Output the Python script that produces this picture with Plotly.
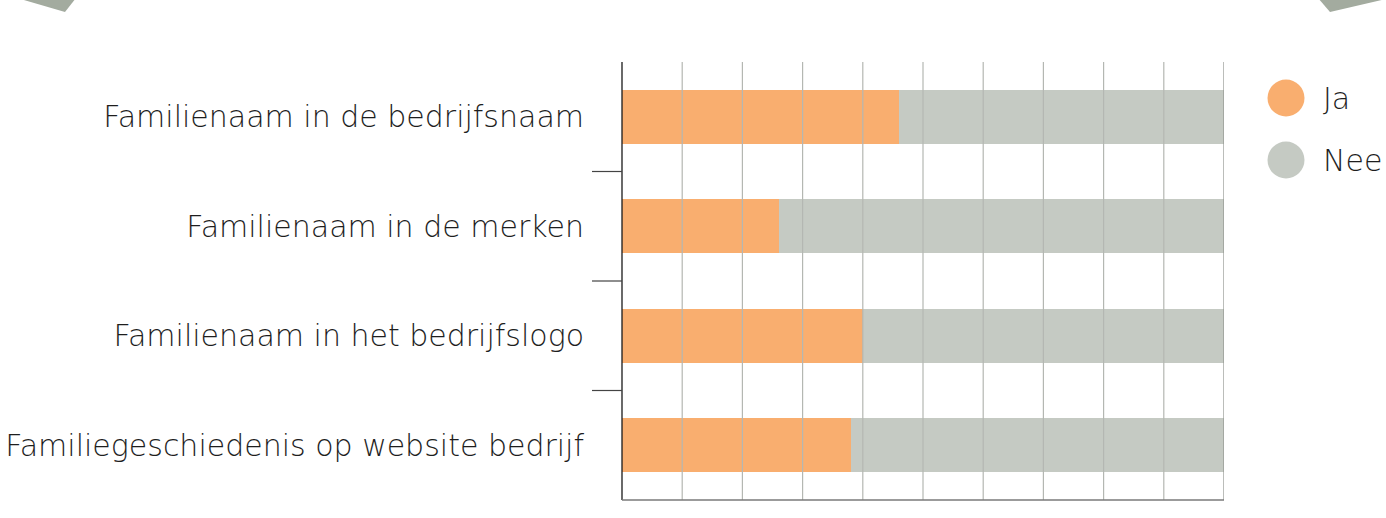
import plotly.graph_objects as go

categories = [
    "Familienaam in de bedrijfsnaam",
    "Familienaam in de merken",
    "Familienaam in het bedrijfslogo",
    "Familiegeschiedenis op website bedrijf",
]
ja_values = [46, 26, 40, 38]
nee_values = [54, 74, 60, 62]
series_names = ["Ja", "Nee"]
series_colors = ["#F9AE6F", "#C5CAC3"]

W, H = 1386, 518
L, R, T, B = 622, 162, 62, 18
PW, PH = W - L - R, H - T - B
FONT = "DejaVu Sans"
FSIZE = 30


def px(x):
    return (x - L) / PW


def py(y):
    return (H - B - y) / PH


fig = go.Figure()
for name, vals, col in zip(series_names, [ja_values, nee_values], series_colors):
    fig.add_trace(go.Bar(
        y=categories, x=vals, name=name, orientation="h",
        marker=dict(color=col, line=dict(width=0)),
        width=0.49, showlegend=False, hoverinfo="x+y+name",
    ))

shapes = []
for g in range(10, 101, 10):
    shapes.append(dict(type="line", xref="x", yref="paper", x0=g, x1=g, y0=0, y1=1,
                       line=dict(color="#B4B7B2" if g < 100 else "#8E918C", width=1.2), layer="above"))
shapes.append(dict(type="line", xref="paper", yref="paper", x0=0, x1=0, y0=0, y1=1,
                   line=dict(color="#1a1a1a", width=1.3), layer="above"))
shapes.append(dict(type="line", xref="paper", yref="paper", x0=0, x1=1, y0=0, y1=0,
                   line=dict(color="#7a7a7a", width=1.6), layer="above"))
for b in [0.5, 1.5, 2.5]:
    shapes.append(dict(type="line", xref="paper", yref="y", x0=px(592), x1=0, y0=b, y1=b,
                       line=dict(color="#444444", width=1.2), layer="above"))
annotations = []
for i, (name, col) in enumerate(zip(series_names, series_colors)):
    cy = 98 + i * 62
    r = 18.5
    shapes.append(dict(type="circle", xref="paper", yref="paper",
                       x0=px(1286 - r), x1=px(1286 + r), y0=py(cy + r), y1=py(cy - r),
                       fillcolor=col, line=dict(width=0), layer="above"))
    annotations.append(dict(xref="paper", yref="paper", x=px(1321), y=py(cy), text=name,
                            showarrow=False, xanchor="left", yanchor="middle",
                            font=dict(family=FONT, size=FSIZE, color="#1e1e1e", weight=200)))


def path(points):
    return "M " + " L ".join(f"{px(x):.5f},{py(y):.5f}" for x, y in points) + " Z"


shapes.append(dict(type="path", xref="paper", yref="paper",
                   path=path([(17, -2), (76, -2), (65, 12)]),
                   fillcolor="#A3AB9F", line=dict(width=0)))
shapes.append(dict(type="path", xref="paper", yref="paper",
                   path=path([(1318, -2), (1386, -2), (1386, -1), (1330, 12)]),
                   fillcolor="#A3AB9F", line=dict(width=0)))

fig.update_layout(
    width=W, height=H,
    margin=dict(l=L, r=R, t=T, b=B, pad=0, autoexpand=False),
    barmode="stack",
    plot_bgcolor="white", paper_bgcolor="white",
    bargap=0.51,
    shapes=shapes, annotations=annotations,
    xaxis=dict(range=[0, 100], showgrid=False, zeroline=False, showticklabels=False,
               ticks="", showline=False, fixedrange=True, automargin=False),
    yaxis=dict(autorange="reversed", showgrid=False, zeroline=False, ticks="",
               showline=False, ticklabelstandoff=37, fixedrange=True, automargin=False,
               tickfont=dict(family=FONT, size=FSIZE, color="#1e1e1e", weight=200)),
)

fig.write_html(
    "out.html",
    config={"displayModeBar": False},
    post_script="document.body.style.margin='0';document.body.style.overflow='hidden';",
)
